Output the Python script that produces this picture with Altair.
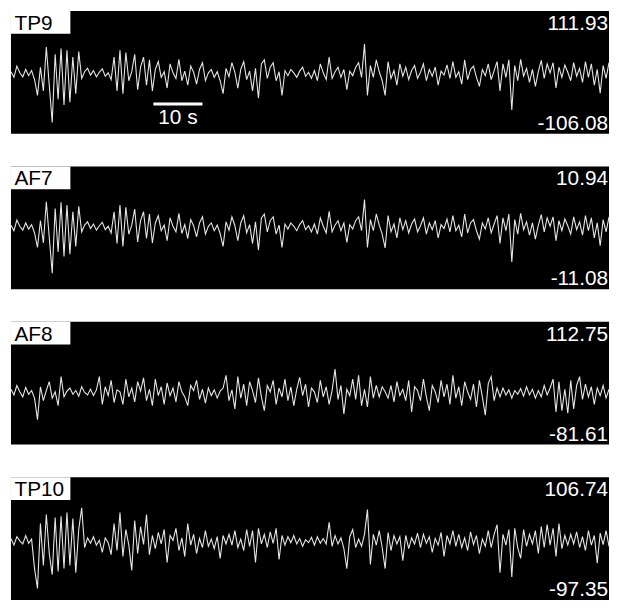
import altair as alt
import pandas as pd

CHANNELS = ["TP9", "AF7", "AF8", "TP10"]
Y_MAX = [111.93, 10.94, 112.75, 106.74]
Y_MIN = [-106.08, -11.08, -81.61, -97.35]
STEP_S = 0.6
T_END = 121.8
SCALE_BAR = [29.0, 39.0]
SCALE_LABEL = "10 s"

TP9 = [4, -6, 14, 2, -5, 8, -3, 6, -10, -38,
       12, -30, 48, -20, -86, 35, -45, 45, -55, 42, -50, 30, -35, 40,
       -8, 4, 10, -2, 6, -5, 3, 9, -4, 2, -10,
       30, -30, 42, -35, 38,
       -12, 4,
       35, -28, 12, 30, -20, 25, -30, 8,
       22, -6, 4, -25, 18, 2, -8, 26, -12, 5, -20, 14, 3, -18, 8, 20, -12,
       2, 8, -6, 4, -12, -35,
       10, -5, 20, 3, -25, 8, 22, -10, 5, -30, 10, -43, 18,
       25, -8, 12, 20, -12, 4, -38,
       6, -3, 8, 2, -6, 5, 12, -4, 3, -8, 6,
       -12, 18, 2, -10, 30, -8, 4, 12, -6, 8,
       -28, 5, -3, 12, 20, -6, 53, -38,
       15, -6, 25, 4, -12, -38, 22, -8, 6, -20, 18, -4,
       12, -10, 6, 15, -8, 3, 18, -12, 8, -4, 12, -20, 5, -2, 16, -8,
       22, -6, 4, -18, 25, -10, 8, 14, -6, -22, 8, -3, 18, -10, 6,
       22, -30, 18, -6, 25, -64, 15, -12, 26, -4, 10,
       -15, 8, -22, 4, 24, -8, 18, 2, 20, -25, 12,
       -6, 16, 3, -12, 20, -4, 10, -15, 22, -6, 18, -20, 8, -34, 15, -8, 20]

AF7 = [0.4, -0.6, 1.3, 0.2, -0.5, 0.8, -0.3, 0.5, -1.0, -3.6,
       1.2, -2.8, 4.6, -1.8, -8.2, 3.4, -4.4, 4.5, -5.2, 4.0, -4.8, 2.8, -3.4, 3.8,
       -0.8, 0.4, 1.0, -0.2, 0.6, -0.5, 0.3, 0.9, -0.4, 0.2, -1.0,
       2.8, -2.9, 4.0, -3.4, 3.6,
       -1.2, 0.4,
       3.3, -2.6, 1.2, 2.8, -2.0, 2.4, -2.8, 0.8,
       2.1, -0.6, 0.4, -2.4, 1.7, 0.2, -0.8, 2.5, -1.1, 0.5, -2.0, 1.4, 0.3, -1.7, 0.8, 1.9, -1.2,
       0.2, 0.8, -0.6, 0.4, -1.1, -3.4,
       1.0, -0.5, 1.9, 0.3, -2.4, 0.8, 2.1, -1.0, 0.5, -2.9, 1.0, -4.1, 1.7,
       2.4, -0.8, 1.2, 1.9, -1.2, 0.4, -3.6,
       0.6, -0.3, 0.8, 0.2, -0.6, 0.5, 1.2, -0.4, 0.3, -0.8, 0.6,
       -1.2, 1.7, 0.2, -1.0, 2.9, -0.8, 0.4, 1.2, -0.6, 0.8,
       -2.7, 0.5, -0.3, 1.2, 1.9, -0.6, 5.0, -3.6,
       1.4, -0.6, 2.4, 0.4, -1.2, -3.7, 2.1, -0.8, 0.6, -1.9, 1.7, -0.4,
       1.2, -1.0, 0.6, 1.5, -0.8, 0.3, 1.7, -1.2, 0.8, -0.4, 1.2, -1.9, 0.5, -0.2, 1.5, -0.8,
       2.1, -0.6, 0.4, -1.7, 2.4, -1.0, 0.8, 1.4, -0.6, -2.1, 0.8, -0.3, 1.7, -1.0, 0.6,
       2.1, -2.9, 1.7, -0.6, 2.4, -6.2, 1.4, -1.2, 2.5, -0.4, 1.0,
       -1.4, 0.8, -2.1, 0.4, 2.3, -0.8, 1.7, 0.2, 1.9, -2.4, 1.2,
       -0.6, 1.5, 0.3, -1.2, 1.9, -0.4, 1.0, -1.4, 2.1, -0.6, 1.7, -1.9, 0.8, -3.3, 1.4, -0.8, 1.9]

AF8 = [6, -3, 12, 2, -6, 9, -2, 4, -8,
       -42,
       10, -12, 4, 18, -8, 2, -20, 26,
       -6, 3, 8, -2, 4, -5, 10, 1, -3, 6, -4, 5,
       26, -18,
       10, -4, 20, -15, 5, 2, -18, 22, -6, 8, -14, 18, 3, 24,
       -12, 6, -20, 22, -4, 10, -18, 16,
       -4, 8, -14, 18, 2, -6, -20, 12, 4, 20, -10, 6, -16,
       8, -4, 5, -8, 3, 8,
       28, -12, 5, -25, 26, -8, 14, -20,
       18, 4, -15, 24, -6, -28, 12, 2, 20, -18, 8, -6, 22,
       -12, 10, -20, 6, 25, -4, 14, -22, 8, 2, -15, 20, -6, 10, -18, 4, 38,
       -10, 12, -33, 6, -4,
       22, -10, 28, -20, 6, -22, 26, -8, 12,
       -6, 10, 2, -8, 12, -14, 18, -4, 6,
       -12, 20, -30, 10, 4, -12, 22, -6, -28, 12, 2, -15, 20, -6, 14, -18, 28, -8,
       10, -20, 18, 2, -10, 14, -22, 20, -6, -35, 15, 26, -12, 8,
       -6, 8, -3, 5, -8, 4, -2, 7, -5, 10, -3, 6, -8, 4, -6, 12, -3, 8,
       22, -30, 18, -28, 6, -32, 20, -25, 12,
       26, -10, 14, -6, 10, -18, 8, -4, 12, -8, 6]

TP10 = [5, -6, 8, 1, -4, 10, -3, 4,
        -45, -78,
        30, -40, 45, -20, -55, 40, -50, 42, -45, 48, -40, 38, -52, 20, 56,
        -10, 6, -3, 8, -6, 2, -18, 6, -2,
        -22, 30, -15, 48, -25,
        20, -6, -48, 35,
        -20, 25, -5, 45, -22, 10,
        -12, 15, -4, 20, -35, 10, 2, 22, -15, 6, -25, 30, -6, 12, -20, 5, -10, 18,
        -8, 4, -12, 8, -28, 10, -4, 12, -6, 18, -10, 4, -15,
        20, -8, 18, -35, 22, -4, 12,
        -10, 16, -3, 22, -30, 10,
        -6, 8, -2, 10, -4, 5, -8, 3, -2, 7, -6, 8, -3, 5, -4,
        32, -8, 10, -4, 6, -12, -45,
        8, 20, -10, 4, -8, 12, 53,
        -38, 12, -6, 18, -10, -45, 15, -15, 10, -4, 8, -32,
        10, -12, 6, -4, 14, -10, 12, -3, 8, -18, 5, -6, 15, -25, 10, -4,
        18, -8, 12, -10, 6, -15, 16, -5, 10, -20, 4, -8, 18, -10, 12,
        28, -52, 12, -6, 20, -59, 22, -10, -28,
        20, -8, 12, -4, 18, -20, 25, -10, 28, -6, 22, -25, 30, -12, 10, -6,
        12, -4, 16, -10, 8, -15, 18, -6, 10, -36, 14, -5, 18, -8]

SERIES = [TP9, AF7, AF8, TP10]

W, H = 604, 124
FONT = "Liberation Sans"
FS = 21
x_scale = alt.Scale(domain=[0, T_END], nice=False, zero=False)


def panel(name, vals, ymin, ymax, show_scale):
    df = pd.DataFrame({"t": [i * STEP_S for i in range(len(vals))], "v": vals})
    y_scale = alt.Scale(domain=[ymin, ymax], nice=False, zero=False)
    line = alt.Chart(df).mark_line(color="#e6e6e6", strokeWidth=1.1).encode(
        x=alt.X("t:Q", scale=x_scale, axis=None),
        y=alt.Y("v:Q", scale=y_scale, axis=None),
    )
    one = alt.Chart(pd.DataFrame({"k": [0]}))
    box = one.mark_rect(color="white").encode(
        x=alt.value(0), x2=alt.value(60), y=alt.value(0), y2=alt.value(23)
    )
    lab = one.mark_text(align="left", baseline="alphabetic", fontSize=FS,
                        font=FONT, color="black").encode(
        x=alt.value(3.5), y=alt.value(19), text=alt.value(name)
    )
    top = one.mark_text(align="right", baseline="alphabetic", fontSize=FS,
                        font=FONT, color="white").encode(
        x=alt.value(W - 1), y=alt.value(19), text=alt.value(f"{ymax:.2f}")
    )
    bot = one.mark_text(align="right", baseline="alphabetic", fontSize=FS,
                        font=FONT, color="white").encode(
        x=alt.value(W - 1), y=alt.value(H - 4), text=alt.value(f"{ymin:.2f}")
    )
    layers = [line, box, lab, top, bot]
    if show_scale:
        sb = pd.DataFrame({"t0": [SCALE_BAR[0]], "t1": [SCALE_BAR[1]],
                           "tm": [(SCALE_BAR[0] + SCALE_BAR[1]) / 2],
                           "lbl": [SCALE_LABEL]})
        bar = alt.Chart(sb).mark_rule(color="white", strokeWidth=3).encode(
            x=alt.X("t0:Q", scale=x_scale, axis=None), x2="t1:Q", y=alt.value(94)
        )
        txt = alt.Chart(sb).mark_text(align="center", baseline="alphabetic",
                                      fontSize=FS, font=FONT, color="white").encode(
            x=alt.X("tm:Q", scale=x_scale, axis=None), y=alt.value(114), text="lbl:N"
        )
        layers += [bar, txt]
    return alt.layer(*layers).properties(width=W, height=H)


panels = [panel(CHANNELS[k], SERIES[k], Y_MIN[k], Y_MAX[k], k == 0) for k in range(4)]

chart = alt.vconcat(*panels, spacing=33, padding=0).configure_view(
    stroke=None, fill="black"
)

chart.save("out.html", embed_options={"renderer": "svg", "actions": False})
